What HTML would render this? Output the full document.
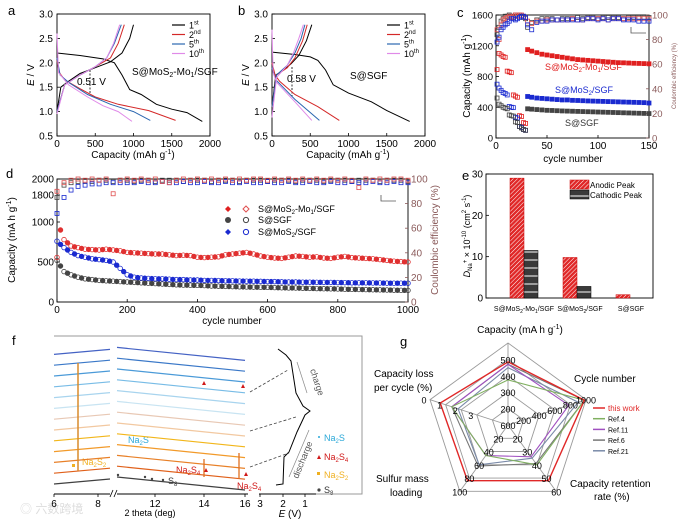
<!DOCTYPE html>
<html><head><meta charset="utf-8"><style>
html,body{margin:0;padding:0;background:#fff;}
svg{display:block;font-family:"Liberation Sans",Arial,sans-serif;}
text{font-family:"Liberation Sans","Noto Sans CJK SC",sans-serif;}
</style></head><body>
<svg id="fig" width="688" height="522" viewBox="0 0 688 522" xmlns="http://www.w3.org/2000/svg">
<defs>
<pattern id="hatchRed" width="3" height="3" patternUnits="userSpaceOnUse" patternTransform="rotate(45)"><rect width="3" height="3" fill="#e02828"/><line x1="0" y1="0" x2="0" y2="3" stroke="#fff" stroke-width="1"/></pattern>
<pattern id="stripeBlack" width="6" height="8" patternUnits="userSpaceOnUse"><rect width="6" height="8" fill="#3a3a3a"/><line x1="0" y1="4" x2="6" y2="4" stroke="#fff" stroke-width="1"/></pattern>
</defs>
<rect x="0" y="0" width="688" height="522" fill="#fff"/>

<text x="8" y="15" font-size="13">a</text>
<text x="238" y="15" font-size="13">b</text>
<text x="457" y="17" font-size="13">c</text>
<text x="6" y="178" font-size="13">d</text>
<text x="462" y="180" font-size="13">e</text>
<text x="12" y="345" font-size="13">f</text>
<text x="400" y="346" font-size="13">g</text>

<text x="133" y="158" font-size="10" text-anchor="middle">Capacity (mAh g<tspan font-size="7" dy="-4">-1</tspan><tspan dy="4">)</tspan></text>
<text transform="translate(34,75) rotate(-90)" font-size="10" text-anchor="middle"><tspan font-style="italic">E</tspan> / V</text>
<text x="132" y="75" font-size="10">S@MoS<tspan font-size="7" dy="2">2</tspan><tspan dy="-2">-Mo</tspan><tspan font-size="7" dy="2">1</tspan><tspan dy="-2">/SGF</tspan></text>
<text x="77" y="85" font-size="10">0.51 V</text>
<line x1="90" y1="70" x2="90" y2="94" stroke="#000" stroke-width="0.8" stroke-dasharray="2,1.5"/>
<text x="350" y="79" font-size="10">S@SGF</text>
<text x="287" y="82" font-size="10">0.58 V</text>
<line x1="292" y1="67" x2="292" y2="96" stroke="#000" stroke-width="0.8" stroke-dasharray="2,1.5"/>
<text x="348" y="158" font-size="10" text-anchor="middle">Capacity (mAh g<tspan font-size="7" dy="-4">-1</tspan><tspan dy="4">)</tspan></text>
<text transform="translate(249,75) rotate(-90)" font-size="10" text-anchor="middle"><tspan font-style="italic">E</tspan> / V</text>

<text transform="translate(470,76) rotate(-90)" font-size="10" text-anchor="middle">Capacity (mAh g<tspan font-size="7" dy="-4">-1</tspan><tspan dy="4">)</tspan></text>
<text transform="translate(676,76) rotate(-90)" font-size="6" text-anchor="middle" fill="#8a5a5a">Coulombic efficiency (%)</text>
<text x="573" y="162" font-size="10" text-anchor="middle">cycle number</text>
<text x="545" y="70" font-size="9" fill="#e02020">S@MoS<tspan font-size="6" dy="2">2</tspan><tspan dy="-2">-Mo</tspan><tspan font-size="6" dy="2">1</tspan><tspan dy="-2">/SGF</tspan></text>
<text x="555" y="93" font-size="9" fill="#1a2ad0">S@MoS<tspan font-size="6" dy="2">2</tspan><tspan dy="-2">/SGF</tspan></text>
<text x="565" y="126" font-size="9" fill="#333">S@SGF</text>
<path d="M631,27 L631,33 L646,33" fill="none" stroke="#555" stroke-width="0.8"/>

<text transform="translate(15,240) rotate(-90)" font-size="10" text-anchor="middle">Capacity (mA h g<tspan font-size="7" dy="-4">-1</tspan><tspan dy="4">)</tspan></text>
<text transform="translate(438,240) rotate(-90)" font-size="10" text-anchor="middle" fill="#8a5a5a">Coulombic efficiency (%)</text>
<text x="232" y="324" font-size="10" text-anchor="middle">cycle number</text>
<path d="M381,195 L381,201 L396,201" fill="none" stroke="#555" stroke-width="0.8"/>
<g>
<path d="M228,206 L231,209 L228,212 L225,209Z" fill="#e02020"/>
<path d="M246,206 L249,209 L246,212 L243,209Z" fill="none" stroke="#e05050"/>
<text x="258" y="212" font-size="9">S@MoS<tspan font-size="6" dy="2">2</tspan><tspan dy="-2">-Mo</tspan><tspan font-size="6" dy="2">1</tspan><tspan dy="-2">/SGF</tspan></text>
<circle cx="228" cy="220" r="3" fill="#444"/>
<circle cx="246" cy="220" r="2.6" fill="none" stroke="#444"/>
<text x="258" y="223" font-size="9">S@SGF</text>
<path d="M225,232 L231,232 L228,229Z M225,232 L231,232 L228,235Z" fill="#1a2ad0"/>
<circle cx="246" cy="232" r="2.6" fill="none" stroke="#1a2ad0"/>
<text x="258" y="235" font-size="9">S@MoS<tspan font-size="6" dy="2">2</tspan><tspan dy="-2">/SGF</tspan></text>
</g>

<text transform="translate(470,236) rotate(-90)" font-size="9" text-anchor="middle"><tspan font-style="italic">D</tspan><tspan font-size="6" dy="2">Na</tspan><tspan font-size="6" dy="-5">+</tspan><tspan dy="3"> × 10</tspan><tspan font-size="6" dy="-4">-10</tspan><tspan dy="4"> (cm</tspan><tspan font-size="6" dy="-4">2</tspan><tspan dy="4"> s</tspan><tspan font-size="6" dy="-4">-1</tspan><tspan dy="4">)</tspan></text>
<text x="524" y="311" font-size="7" text-anchor="middle">S@MoS<tspan font-size="5" dy="2">2</tspan><tspan dy="-2">-Mo</tspan><tspan font-size="5" dy="2">1</tspan><tspan dy="-2">/SGF</tspan></text>
<text x="580" y="311" font-size="7" text-anchor="middle">S@MoS<tspan font-size="5" dy="2">2</tspan><tspan dy="-2">/SGF</tspan></text>
<text x="631" y="311" font-size="7" text-anchor="middle">S@SGF</text>
<rect x="570" y="180" width="19" height="9" fill="url(#hatchRed)" stroke="#c00" stroke-width="0.5"/>
<text x="590" y="188" font-size="8">Anodic Peak</text>
<rect x="570" y="190" width="19" height="9" fill="url(#stripeBlack)" stroke="#000" stroke-width="0.5"/>
<text x="590" y="198" font-size="8">Cathodic Peak</text>

<text x="150" y="516" font-size="9" text-anchor="middle">2 theta (deg)</text>
<text x="290" y="517" font-size="10" text-anchor="middle"><tspan font-style="italic">E</tspan> (V)</text>
<text x="20" y="513" font-size="12" fill="#ddd">◎ 六数跨境</text>
<text x="128" y="443" font-size="9" fill="#2aa8d8">Na<tspan font-size="6" dy="2">2</tspan><tspan dy="-2">S</tspan></text>
<text x="82" y="465" font-size="9" fill="#f0b020">Na<tspan font-size="6" dy="2">2</tspan><tspan dy="-2">S</tspan><tspan font-size="6" dy="2">2</tspan></text>
<text x="176" y="473" font-size="9" fill="#d01818">Na<tspan font-size="6" dy="2">2</tspan><tspan dy="-2">S</tspan><tspan font-size="6" dy="2">4</tspan></text>
<text x="237" y="489" font-size="9" fill="#d01818">Na<tspan font-size="6" dy="2">2</tspan><tspan dy="-2">S</tspan><tspan font-size="6" dy="2">4</tspan></text>
<text x="168" y="484" font-size="9" fill="#333">S<tspan font-size="6" dy="2">8</tspan></text>
<g>
<circle cx="319" cy="437" r="1" fill="#2aa8d8"/>
<text x="324" y="441" font-size="9" fill="#2aa8d8">Na<tspan font-size="6" dy="2">2</tspan><tspan dy="-2">S</tspan></text>
<path d="M317,459 L321,459 L319,455Z" fill="#d01818"/>
<text x="324" y="460" font-size="9" fill="#d01818">Na<tspan font-size="6" dy="2">2</tspan><tspan dy="-2">S</tspan><tspan font-size="6" dy="2">4</tspan></text>
<rect x="317" y="472" width="3" height="3" fill="#f0b020"/>
<text x="324" y="478" font-size="9" fill="#f0b020">Na<tspan font-size="6" dy="2">2</tspan><tspan dy="-2">S</tspan><tspan font-size="6" dy="2">2</tspan></text>
<circle cx="319" cy="490" r="1.6" fill="#444"/>
<text x="324" y="493" font-size="9" fill="#333">S<tspan font-size="6" dy="2">8</tspan></text>
</g>
<path d="M276,485 L283,484 L284,457 L289,452 L297,432 L305,415 L310,411 L303,406 L296,393 L291,361 L286,355 L278,349" fill="none" stroke="#000" stroke-width="1"/>
<line x1="307" y1="393" x2="297" y2="362" stroke="#888" stroke-width="0.7"/>
<text transform="translate(310,370) rotate(72)" font-size="9" fill="#555">charge</text>
<line x1="289" y1="477" x2="309" y2="430" stroke="#888" stroke-width="0.7"/>
<text transform="translate(298,479) rotate(-68)" font-size="9" fill="#555">discharge</text>
<line x1="250" y1="392" x2="288" y2="370" stroke="#444" stroke-width="0.8" stroke-dasharray="3,2"/>
<line x1="250" y1="431" x2="296" y2="417" stroke="#444" stroke-width="0.8" stroke-dasharray="3,2"/>
<line x1="250" y1="467" x2="289" y2="453" stroke="#444" stroke-width="0.8" stroke-dasharray="3,2"/>
<path d="M54,336 L362,336 L362,494 L315,494" fill="none" stroke="#999" stroke-width="1"/>

<text x="520" y="333" font-size="10" text-anchor="middle">Capacity (mA h g<tspan font-size="7" dy="-4">-1</tspan><tspan dy="4">)</tspan></text>
<text x="374" y="377" font-size="10">Capacity loss</text>
<text x="374" y="391" font-size="10">per cycle (%)</text>
<text x="574" y="382" font-size="10">Cycle number</text>
<text x="376" y="482" font-size="10">Sulfur mass</text>
<text x="390" y="496" font-size="10">loading</text>
<text x="570" y="487" font-size="10">Capacity retention</text>
<text x="594" y="500" font-size="10">rate (%)</text>
</svg>
<script>
// ---------- DATA ----------
const aD1c=[0,300,600,750,850,950,1100,1300,1500,1700,1900];
const aD1v=[2.2,2.15,2.08,2.0,1.75,1.45,1.35,1.15,1.05,0.98,0.8];
const aC1c=[0,50,150,300,500,700,850,950,1000];
const aC1v=[1.0,1.5,1.62,1.78,1.9,2.02,2.2,2.5,2.78];
const aD2c=[0,30,100,300,500,800,1200,1550];
const aD2v=[2.05,1.8,1.65,1.47,1.3,1.15,1.02,0.82];
const aC2c=[0,100,300,500,700,800,880];
const aC2v=[1.0,1.55,1.75,1.92,2.1,2.4,2.78];
const aD5c=[0,40,150,400,700,1000,1220];
const aD5v=[2.1,1.75,1.6,1.35,1.15,1.0,0.82];
const aC5c=[0,100,300,500,650,750,840];
const aC5v=[1.0,1.55,1.75,1.92,2.1,2.4,2.78];
const aD10c=[0,20,150,400,600,800,980];
const aD10v=[2.6,1.8,1.55,1.3,1.12,1.0,0.8];
const aC10c=[0,100,300,500,650,740,820];
const aC10v=[0.95,1.55,1.75,1.92,2.1,2.4,2.78];
const bD1c=[0,300,500,600,700,800,1000,1300,1500,1800];
const bD1v=[2.22,2.17,2.12,2.05,1.85,1.55,1.38,1.2,1.02,0.8];
const bC1c=[0,50,150,250,350,450,520];
const bC1v=[1.1,1.75,1.85,1.98,2.15,2.45,2.78];
const bD2c=[0,40,100,300,600,880];
const bD2v=[2.0,1.75,1.62,1.35,1.1,0.82];
const bC2c=[0,60,200,300,400,460];
const bC2v=[1.1,1.75,1.9,2.1,2.45,2.78];
const bD5c=[0,50,300,620];
const bD5v=[1.9,1.65,1.25,0.82];
const bC5c=[0,60,200,300,380,430];
const bC5v=[1.1,1.75,1.95,2.2,2.5,2.78];
const bD10c=[0,15,60,300,520];
const bD10v=[2.68,1.8,1.6,1.2,0.82];
const bC10c=[0,60,200,280,350,410];
const bC10v=[0.88,1.7,1.95,2.2,2.5,2.78];
const abTicksX=[0,500,1000,1500,2000];
const abTicksY=[0.5,1.0,1.5,2.0,2.5,3.0];
const legendLabels=['1','2','5','10'];
const legendSup=['st','nd','th','th'];

const cCycRate=[1,3,5,7,9,11,13,15,17,19,21,23,25,27,29];
const cRedRate=[890,1100,1080,1060,1050,870,860,850,560,545,530,290,280,200,190];
const cBlueRate=[700,650,620,590,580,560,410,400,395,270,260,150,140,110,100];
const cGrayRate=[520,440,420,400,390,380,300,290,285,210,200,150,130,110,100];
const cCycLong=[31,35,40,45,50,55,60,65,70,75,80,85,90,95,100,105,110,115,120,125,130,135,140,145,150];
const cRedLong=[1150,1130,1110,1090,1080,1070,1060,1050,1040,1030,1020,1015,1010,1005,1000,995,990,985,980,978,975,972,970,968,965];
const cBlueLong=[540,530,520,515,510,505,500,495,495,490,488,485,482,480,478,476,474,472,470,468,466,464,462,460,455];
const cGrayLong=[380,375,370,365,360,358,355,352,350,348,346,344,342,340,338,336,334,332,330,328,326,324,322,320,318];
const cCeCyc=[1,3,5,7,9,11,13,15,17,19,21,23,25,27,29,31,35,40,45,50,55,60,65,70,75,80,85,90,95,100,105,110,115,120,125,130,135,140,145,150];
const cCeGray=[84,90,95,97,99,99,100,99,98,100,99,100,99,98,97,90,94,96,97,97,97,96,97,97,97,98,97,98,98,97,98,98,98,98,97,98,98,98,98,98];
const cCeBlue=[78,82,88,90,92,93,95,97,97,96,97,98,99,99,98,92,88,94,95,95,96,96,96,96,96,96,96,97,97,96,97,96,97,97,96,96,96,95,95,95];
const cCeRed=[88,80,92,96,97,98,99,98,99,100,99,100,100,99,98,95,93,95,95,96,96,96,96,96,97,96,96,97,97,97,97,96,97,97,97,97,97,97,97,97];
const cTicksX=[0,50,100,150];
const cTicksY=[0,400,800,1200,1600];
const ceTicks=[0,20,40,60,80,100];

const dCyc=[0,20,40,60,80,100,120,140,160,180,200,220,240,260,280,300,320,340,360,380,400,420,440,460,480,500,520,540,560,580,600,620,640,660,680,700,720,740,760,780,800,820,840,860,880,900,920,940,960,980,1000];
const dRed=[1020,780,700,680,660,655,650,660,650,640,620,615,610,605,600,600,590,580,585,580,560,555,560,565,590,600,610,620,600,575,560,550,545,560,575,570,560,565,550,545,560,570,555,550,545,540,530,520,510,505,500];
const dGray=[520,380,340,310,290,280,270,265,260,255,250,245,240,235,230,225,220,215,212,210,208,205,200,198,195,192,190,188,186,185,183,180,178,176,175,172,170,168,166,165,163,160,158,157,155,153,152,150,148,146,145];
const dBlue=[760,680,620,580,560,540,530,520,500,420,340,310,300,295,290,290,285,280,280,275,275,270,270,268,265,265,262,260,260,258,255,255,252,250,250,248,248,246,245,245,243,242,240,240,240,238,238,236,235,235,235];
const dCeRed=[90,97,99,100,99,100,99,100,88,99,100,99,100,99,100,98,97,99,100,99,100,99,100,99,100,99,100,99,100,100,99,100,99,100,99,100,99,100,99,100,99,100,99,93,100,99,100,99,100,100,99];
const dCeGray=[85,95,97,98,98,98,99,99,98,99,99,98,99,99,98,99,99,99,98,99,99,99,98,99,99,99,98,99,99,99,98,99,99,99,98,99,99,99,98,99,99,99,98,99,99,99,98,99,99,99,98];
const dCeBlue=[72,85,91,94,95,96,96,97,97,97,97,97,98,97,97,98,97,97,98,97,97,98,97,97,98,97,97,98,97,97,98,97,97,98,97,97,98,97,97,98,97,97,98,97,97,98,97,97,98,97,97];
const dTicksLow=[0,500,1000];
const dTicksHigh=[1800,2000];
const dTicksX=[0,200,400,600,800,1000];

const eCategories=['S@MoS2-Mo1/SGF','S@MoS2/SGF','S@SGF'];
const eAnodic=[29,9.8,0.8];
const eCathodic=[11.5,2.8,0];
const eTicks=[0,10,20,30];

const gSeriesNames=['this work','Ref.4','Ref.11','Ref.6','Ref.21'];
const gThisWork=[0.77,0.98,0.84,0.84,0.87];
const gRef4=[0.55,0.98,0.6,0.46,0.72];
const gRef11=[0.74,0.78,0.48,0.46,0.72];
const gRef6=[0.74,0.98,0.58,0.62,0.72];
const gRef21=[0.7,0.9,0.5,0.6,0.64];

// ---------- HELPERS ----------
const NS='http://www.w3.org/2000/svg';
const svg=document.getElementById('fig');
function mk(tag,attrs){const el=document.createElementNS(NS,tag);for(const k in attrs)el.setAttribute(k,attrs[k]);svg.appendChild(el);return el;}
function seg(x1,y1,x2,y2,stroke,w,name){
  const el=mk('line',{x1:x1,y1:y1,x2:x2,y2:y2,stroke:stroke,'stroke-width':w});
  
  
  return el;}
function txt(x,y,s,size,anchor,fill,name){
  const el=mk('text',{x:x,y:y,'font-size':size,'text-anchor':anchor,fill:fill||'#000'});
  el.textContent=s;
  
  
  return el;}
function frame(x0,y0,x1,y1,name){
  const el=mk('rect',{x:x0,y:y0,width:x1-x0,height:y1-y0,fill:'none',stroke:'#000','stroke-width':0.9});
  
  
  return el;}
function curve(xs,ys,fx,fy,color,name){
  let d='';for(let i=0;i<xs.length;i++){d+=(i?'L':'M')+fx(xs[i]).toFixed(1)+','+fy(ys[i]).toFixed(1);}
  const el=mk('path',{d:d,fill:'none',stroke:color,'stroke-width':1});
  
  
  return el;}
function marker(x,y,shape,color,filled,name){
  let el;
  if(shape==='circle'){el=mk('circle',{cx:x,cy:y,r:2.3,fill:filled?color:'none',stroke:color,'stroke-width':0.8});}
  else {el=mk('rect',{x:x-2,y:y-2,width:4,height:4,fill:filled?color:'none',stroke:color,'stroke-width':0.8});}
  
  
  return el;}

// ---------- PANELS a & b ----------
const cycColors=['#000','#d42828','#2a66b0','#e08ae8'];
function voltagePanel(x0,prefix,sets,lgX){
  const x1=x0+153,y0=14,y1=136;
  const fx=c=>x0+c/2000*153, fy=v=>y1-(v-0.5)/2.5*122;
  frame(x0,y0,x1,y1,prefix+'-plot-frame');
  abTicksX.forEach(t=>{seg(fx(t),y1,fx(t),y1-3,'#000',0.8,prefix+'-x-tick');txt(fx(t),y1+11,String(t),10,'middle','#000',prefix+'-x-tick-label');});
  abTicksY.forEach(t=>{seg(x0,fy(t),x0+3,fy(t),'#000',0.8,prefix+'-y-tick');txt(x0-4,fy(t)+3.5,t.toFixed(1),10,'end','#000',prefix+'-y-tick-label');});
  sets.forEach((s,i)=>{curve(s[0],s[1],fx,fy,cycColors[i],prefix+'-discharge-cycle-'+legendLabels[i]);curve(s[2],s[3],fx,fy,cycColors[i],prefix+'-charge-cycle-'+legendLabels[i]);});
  legendLabels.forEach((l,i)=>{
    const y=25+i*9.5;
    seg(lgX,y,lgX+13,y,cycColors[i],1.2,prefix+'-legend-line');
    const t=txt(lgX+17,y+3.5,l,9,'start','#000',prefix+'-legend-label');
    const sp=document.createElementNS(NS,'tspan');sp.setAttribute('font-size','6');sp.setAttribute('dy','-4');sp.textContent=legendSup[i];t.appendChild(sp);
  });
}
voltagePanel(57,'a',[[aD1c,aD1v,aC1c,aC1v],[aD2c,aD2v,aC2c,aC2v],[aD5c,aD5v,aC5c,aC5v],[aD10c,aD10v,aC10c,aC10v]],172);
voltagePanel(272,'b',[[bD1c,bD1v,bC1c,bC1v],[bD2c,bD2v,bC2c,bC2v],[bD5c,bD5v,bC5c,bC5v],[bD10c,bD10v,bC10c,bC10v]],387);

// ---------- PANEL c ----------
(function(){
  const x0=496,x1=649,y0=15,y1=138;
  const fx=c=>x0+c/150*153, fy=v=>y1-v/1600*123, fce=v=>y1-v/100*123;
  frame(x0,y0,x1,y1,'c-plot-frame');
  cTicksX.forEach(t=>{seg(fx(t),y1,fx(t),y1-3,'#000',0.8,'c-x-tick');txt(fx(t),y1+11,String(t),10,'middle','#000','c-x-tick-label');});
  cTicksY.forEach(t=>{seg(x0,fy(t),x0+3,fy(t),'#000',0.8,'c-y-tick');txt(x0-3,fy(t)+3.5,String(t),9.5,'end','#000','c-y-tick-label');});
  ceTicks.forEach(t=>{seg(x1,fce(t),x1-3,fce(t),'#8a5a5a',0.8,'c-ce-tick');txt(x1+3,fce(t)+3.5,String(t),9.5,'start','#8a5a5a','c-ce-tick-label');});
  const series=[[cRedRate,cRedLong,'#e02020','mo1'],[cBlueRate,cBlueLong,'#1a2ad0','mos2'],[cGrayRate,cGrayLong,'#444','sgf']];
  series.forEach(s=>{
    cCycRate.forEach((c,i)=>{marker(fx(c),fy(s[0][i]),'sq',s[2],false,'c-capacity-point-'+s[3]);});
    cCycLong.forEach((c,i)=>{marker(fx(c),fy(s[1][i]),'sq',s[2],true,'c-capacity-point-'+s[3]);});
  });
  [[cCeGray,'#444','sgf'],[cCeRed,'#e05050','mo1'],[cCeBlue,'#1a2ad0','mos2']].forEach(s=>{
    cCeCyc.forEach((c,i)=>{marker(fx(c),fce(s[0][i]),'sq',s[1],false,'c-ce-point-'+s[2]);});
  });
})();

// ---------- PANEL d ----------
(function(){
  const x0=57,x1=408,y0=179,y1=302;
  const fx=c=>x0+c/1000*351;
  const fy=v=> v<=1000 ? y1-v*0.08 : 195-(v-1800)/200*16;
  const fce=v=>y1-v*1.23;
  frame(x0,y0,x1,y1,'d-plot-frame');
  dTicksX.forEach(t=>{seg(fx(t),y1,fx(t),y1-3,'#000',0.8,'d-x-tick');txt(fx(t),y1+11,String(t),10,'middle','#000','d-x-tick-label');});
  dTicksLow.concat(dTicksHigh).forEach(t=>{seg(x0,fy(t),x0+3,fy(t),'#000',0.8,'d-y-tick');txt(x0-3,fy(t)+3.5,String(t),10,'end','#000','d-y-tick-label');});
  ceTicks.forEach(t=>{seg(x1,fce(t),x1-3,fce(t),'#8a5a5a',0.8,'d-ce-tick');txt(x1+3,fce(t)+3.5,String(t),10,'start','#8a5a5a','d-ce-tick-label');});
  [[dCeGray,'#444','sgf'],[dCeBlue,'#1a2ad0','mos2'],[dCeRed,'#e05050','mo1']].forEach(s=>{
    dCyc.forEach((c,i)=>{marker(fx(c),fce(s[0][i]),'sq',s[1],false,'d-ce-point-'+s[2]);});
  });
  [[dGray,'#444','sgf'],[dBlue,'#1a2ad0','mos2'],[dRed,'#e03030','mo1']].forEach(s=>{
    dCyc.forEach((c,i)=>{
      marker(fx(c),fy(s[0][i]),'circle',s[1],false,'d-capacity-open-'+s[2]);
      if(i<dCyc.length-1){marker(fx(c+10),fy((s[0][i]+s[0][i+1])/2),'circle',s[1],true,'d-capacity-filled-'+s[2]);}
    });
  });
})();

// ---------- PANEL e ----------
(function(){
  const x0=486,x1=653,y0=174,y1=298;
  const fy=v=>y1-v/30*124;
  frame(x0,y0,x1,y1,'e-plot-frame');
  eTicks.forEach(t=>{seg(x0,fy(t),x0+3,fy(t),'#000',0.8,'e-y-tick');txt(x0-3,fy(t)+3.5,String(t),10,'end','#000','e-y-tick-label');});
  eCategories.forEach((c,i)=>{
    const gx=510+i*53;
    const a=mk('rect',{x:gx,y:fy(eAnodic[i]),width:14,height:y1-fy(eAnodic[i]),fill:'url(#hatchRed)',stroke:'#c00','stroke-width':0.5});
    
    
    if(eCathodic[i]>0){
      const k=mk('rect',{x:gx+14,y:fy(eCathodic[i]),width:14,height:y1-fy(eCathodic[i]),fill:'url(#stripeBlack)',stroke:'#000','stroke-width':0.5});
      
      
    }
  });
})();

// ---------- PANEL f ----------
(function(){
  const fColors=['#404040','#e0601a','#e88028','#f29a2a','#f2b61a','#f2c8a0','#e8c8b4','#c8e4f2','#a8d4ee','#78bce6','#4a9ad8','#3a78c8','#4462c4','#3a62b8'];
  for(let i=0;i<13;i++){
    const yl=484-i*10.8;
    const p=mk('path',{d:'M54,'+yl+' L110,'+(yl-5)+' M117,'+(yl-7)+' L245,'+(yl+6),fill:'none',stroke:fColors[i],'stroke-width':1.2});
    
    
  }
  seg(78,363,78,471,'#d88a2a',1.5,'f-na2s2-peak');
  seg(204,459,204,477,'#e07020',1.3,'f-na2s4-peak-mid');
  seg(239,453,239,479,'#e07020',1.3,'f-na2s4-peak-right');
  seg(54,494,110,494,'#000',0.9,'f-x-axis-left');
  seg(117,494,248,494,'#000',0.9,'f-x-axis-right');
  seg(259,494,316,494,'#000',0.9,'f-e-axis');
  seg(110,497,113,490,'#000',0.8,'f-axis-break');
  seg(114,497,117,490,'#000',0.8,'f-axis-break');
  [['6',54],['8',98],['12',155],['14',204],['16',245]].forEach(t=>{seg(t[1],494,t[1],497,'#000',0.8,'f-x-tick');txt(t[1],507,t[0],10,'middle','#000','f-x-tick-label');});
  [['3',260],['2',283],['1',305]].forEach(t=>{seg(t[1],494,t[1],497,'#000',0.8,'f-e-tick');txt(t[1],507,t[0],10,'middle','#000','f-e-tick-label');});
  [[204,383],[243,386],[206,470],[246,474]].forEach(p=>{const m=mk('path',{d:'M'+(p[0]-2)+','+(p[1]+2)+' L'+(p[0]+2)+','+(p[1]+2)+' L'+p[0]+','+(p[1]-2)+'Z',fill:'#d01818'});
    
    });
  [[72,464]].forEach(p=>{const m=mk('rect',{x:p[0],y:p[1],width:3,height:3,fill:'#f0b020'});
    
    });
  [[118,475],[145,477],[152,479],[163,480]].forEach(p=>{const m=mk('circle',{cx:p[0],cy:p[1],r:1.2,fill:'#444'});
    
    });
})();

// ---------- PANEL g radar ----------
(function(){
  const cx=508,cy=425,R=82;
  const ang=[-90,-18,54,126,198].map(a=>a*Math.PI/180);
  const pt=(i,r)=>[cx+r*R*Math.cos(ang[i]),cy+r*R*Math.sin(ang[i])];
  [0.2,0.4,0.6,0.8,1.0].forEach(r=>{
    const pts=ang.map((a,i)=>pt(i,r).map(v=>v.toFixed(1)).join(',')).join(' ');
    const p=mk('polygon',{points:pts,fill:'none',stroke:'#9a9a9a','stroke-width':0.9});
    
    
  });
  ang.forEach((a,i)=>{const e=pt(i,1);seg(cx,cy,e[0],e[1],'#9a9a9a',0.9,'g-spoke');});
  const series=[[gRef21,'#7a8aa8'],[gRef6,'#777'],[gRef11,'#a050c0'],[gRef4,'#80b060'],[gThisWork,'#e02828']];
  const names=['ref21','ref6','ref11','ref4','this-work'];
  series.forEach((s,k)=>{
    const pts=s[0].map((v,i)=>pt(i,v).map(q=>q.toFixed(1)).join(',')).join(' ');
    const p=mk('polygon',{points:pts,fill:'none',stroke:s[1],'stroke-width':k===4?1.4:1.1});
    
    
  });
  const ticks=[[['600',0],['500',0.8],['400',0.6],['300',0.4],['200',0.2]],[['1000',1],['800',0.8],['600',0.6],['400',0.4],['200',0.2]],[['60',1],['50',0.8],['40',0.6],['30',0.4],['20',0.2]],[['100',1],['80',0.8],['60',0.6],['40',0.4],['20',0.2]],[['0',1],['1',0.8],['2',0.6],['3',0.4]]];
  ticks.forEach((ax,i)=>ax.forEach(t=>{const p=pt(i,t[1]);txt(p[0]+(i===4?-6:0),p[1]+4,t[0],9,'middle','#000','g-axis-tick-label');}));
  const lc=['#e02828','#80b060','#a050c0','#777','#7a8aa8'];
  gSeriesNames.forEach((n,i)=>{
    const y=408+i*10.7;
    seg(593,y,605,y,lc[i],1.5,'g-legend-line');
    txt(608,y+3,n,i===0?8:7,'start',i===0?'#e02828':'#000','g-legend-label');
  });
})();
</script>
</body></html>
